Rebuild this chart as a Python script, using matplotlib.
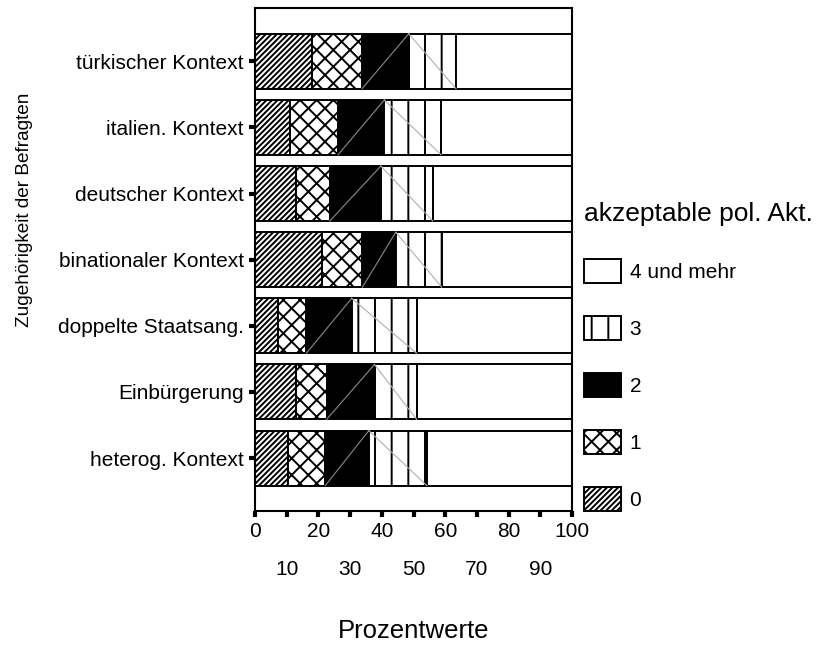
import matplotlib
matplotlib.use("Agg")
import matplotlib.pyplot as plt
import numpy as np

plt.rcParams['font.family'] = ['Liberation Sans', 'DejaVu Sans']
plt.rcParams['hatch.linewidth'] = 1.4

categories = ["türkischer Kontext", "italien. Kontext", "deutscher Kontext",
              "binationaler Kontext", "doppelte Staatsang.", "Einbürgerung",
              "heterog. Kontext"]
series_names = ["0", "1", "2", "3", "4 und mehr"]
v0 = [18.1, 11.0, 12.9, 21.0, 7.3, 12.8, 10.4]
v1 = [15.7, 15.2, 10.7, 12.9, 8.9, 9.8, 11.8]
v2 = [14.7, 14.6, 16.1, 10.5, 14.3, 15.1, 13.7]
v3 = [14.9, 17.9, 16.4, 14.5, 20.5, 13.3, 18.3]
v4 = [36.6, 41.3, 43.9, 41.1, 49.0, 49.0, 45.8]
legend_title = "akzeptable pol. Akt."
major_ticks = [0, 20, 40, 60, 80, 100]
minor_ticks = [10, 30, 50, 70, 90]

series = [v0, v1, v2, v3, v4]
faces = ['white', 'white', 'black', 'white', 'white']
hatches = ['//////', 'xx', None, '|', None]

fig = plt.figure(figsize=(8.18, 6.45), dpi=100)
ax = fig.add_axes([255/818, 1-511/645, (572-255)/818, (511-8.3)/645])

n = len(categories)
y = np.arange(n)[::-1]
left = np.zeros(n)
handles = []
bh = 0.83
for vals, name, fc, h in zip(series, series_names, faces, hatches):
    vals = np.array(vals)
    b = ax.barh(y, vals, left=left, height=bh, color=fc, edgecolor='black',
                hatch=h, linewidth=1.4, label=name)
    handles.append(b)
    if name == "2":
        for yi, l, w in zip(y, left, vals):
            ax.plot([l, l + w], [yi - bh/2, yi + bh/2], color='#8a8a8a', lw=0.8)
    if name == "3":
        for yi, l, w in zip(y, left, vals):
            ax.plot([l, l + w], [yi + bh/2, yi - bh/2], color='#b0b0b0', lw=0.8)
    left = left + vals

ax.set_xlim(0, 100)
ax.set_ylim(-0.8, n - 1 + 0.8)
ax.set_yticks(y)
ax.set_yticklabels(categories, fontsize=15)
ax.set_xticks(major_ticks)
ax.set_xticklabels([str(t) for t in major_ticks], fontsize=15)
ax.set_xticks(minor_ticks, minor=True)
ax.set_xticklabels([str(t) for t in minor_ticks], minor=True, fontsize=15)
ax.tick_params(axis='y', length=4, width=3, pad=4)
ax.tick_params(axis='x', which='major', length=4, width=3, pad=4)
ax.tick_params(axis='x', which='minor', length=4, width=3, pad=31)
for s in ax.spines.values():
    s.set_linewidth(1.5)

ax.set_xlabel("Prozentwerte", fontsize=18.5)
ax.xaxis.label.set_va('baseline')
ax.xaxis.set_label_coords(0.5, (645 - 638 - 134) / 502.7)
ax.set_ylabel("Zugehörigkeit der Befragten", fontsize=13.7)
ax.yaxis.set_label_coords((24 - 255) / 317, 0.5 + (502.7/2 + 8.3 - 210) / 502.7)
ax.yaxis.label.set_va('center')

leg = fig.legend(handles[::-1], series_names[::-1], loc='upper left',
                 bbox_to_anchor=(569/818, 1 - 187/645), frameon=False,
                 fontsize=15, title=legend_title, title_fontsize=19,
                 handlelength=1.78, handleheight=1.395, labelspacing=1.59,
                 handletextpad=0.43, alignment='left', borderpad=0.2)

fig.savefig("out.png", dpi=100)
